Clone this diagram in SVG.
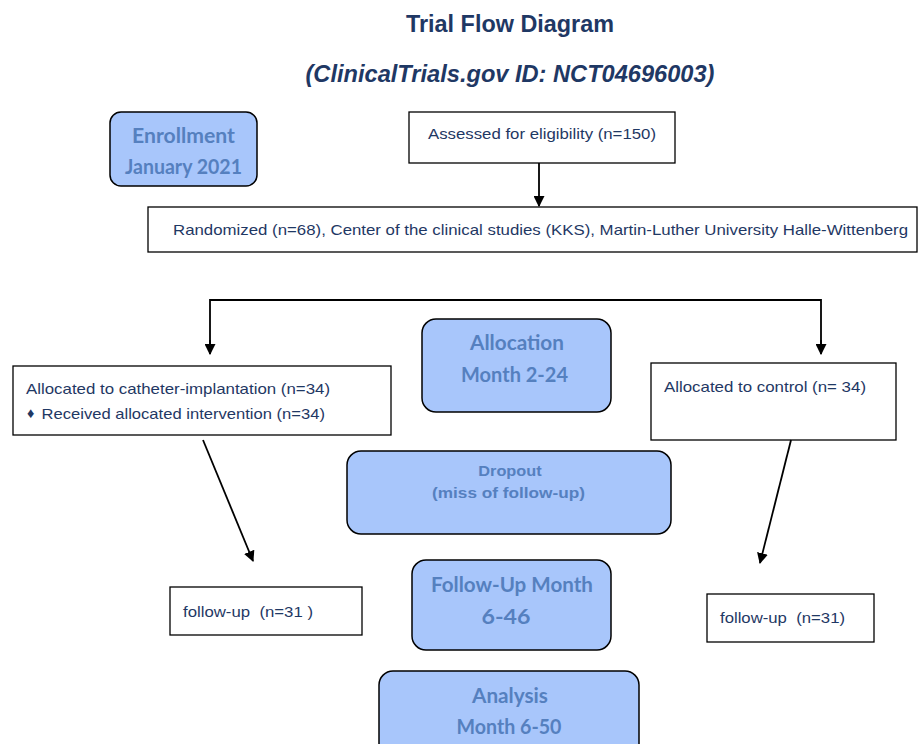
<svg xmlns="http://www.w3.org/2000/svg" width="918" height="744" viewBox="0 0 918 744">
<defs>
<marker id="ah" viewBox="0 0 10 10" refX="9" refY="5" markerWidth="11" markerHeight="11" markerUnits="userSpaceOnUse" orient="auto">
<path d="M0,0 L10,5 L0,10 z" fill="#000"/>
</marker>
<style>
.title{font-family:"Liberation Sans",Arial,sans-serif;font-weight:bold;fill:#1f3864;font-size:23.5px;text-anchor:middle}
.box{fill:#fff;stroke:#000;stroke-width:1.3}
.phase{fill:#a8c6fb;stroke:#000;stroke-width:1.5}
.pt{font-family:Lato,"Open Sans",sans-serif;font-weight:bold;fill:#5580bf;font-size:20px;text-anchor:middle}
.dt{font-family:"Liberation Sans",Arial,sans-serif;font-weight:bold;fill:#5580bf;font-size:15px;text-anchor:middle}
.bt{font-family:"Liberation Sans",Arial,sans-serif;fill:#1f3864;font-size:14.5px;white-space:pre}
.conn{fill:none;stroke:#000;stroke-width:1.8}
</style>
</defs>
<rect width="918" height="744" fill="#fff"/>
<text class="title" x="510" y="32" textLength="208" lengthAdjust="spacingAndGlyphs">Trial Flow Diagram</text>
<text class="title" x="510" y="82" font-style="italic" textLength="409" lengthAdjust="spacingAndGlyphs">(ClinicalTrials.gov ID: NCT04696003)</text>

<g id="enrollment">
<rect class="phase" x="110" y="112" width="147" height="74" rx="11"/>
<text class="pt" x="183.5" y="143" textLength="103" lengthAdjust="spacingAndGlyphs">Enrollment</text>
<text class="pt" x="183.5" y="174" textLength="117" lengthAdjust="spacingAndGlyphs">January 2021</text>
</g>
<g id="assessed">
<rect class="box" x="409" y="112" width="266" height="51"/>
<text class="bt" x="428" y="139" textLength="228" lengthAdjust="spacingAndGlyphs">Assessed for eligibility (n=150)</text>
</g>
<g id="randomized">
<rect class="box" x="148" y="207" width="769" height="45"/>
<text class="bt" x="173" y="235" textLength="735" lengthAdjust="spacingAndGlyphs">Randomized (n=68), Center of the clinical studies (KKS), Martin-Luther University Halle-Wittenberg</text>
</g>
<g id="allocation">
<rect class="phase" x="422" y="319" width="189" height="93" rx="14"/>
<text class="pt" x="517" y="350" textLength="94" lengthAdjust="spacingAndGlyphs">Allocation</text>
<text class="pt" x="514.5" y="382" textLength="107" lengthAdjust="spacingAndGlyphs">Month 2-24</text>
</g>
<g id="alloc-catheter">
<rect class="box" x="13" y="366" width="378" height="69"/>
<text class="bt" x="26" y="394" textLength="304" lengthAdjust="spacingAndGlyphs">Allocated to catheter-implantation (n=34)</text>
<text class="bt" x="27" y="418" font-size="9">♦</text>
<text class="bt" x="41.5" y="419" textLength="283.5" lengthAdjust="spacingAndGlyphs">Received allocated intervention (n=34)</text>
</g>
<g id="alloc-control">
<rect class="box" x="651" y="363" width="245" height="77"/>
<text class="bt" x="664" y="392" textLength="202" lengthAdjust="spacingAndGlyphs">Allocated to control (n= 34)</text>
</g>
<g id="dropout">
<rect class="phase" x="347" y="451" width="324" height="83" rx="14"/>
<text class="dt" x="510" y="476" textLength="63.5" lengthAdjust="spacingAndGlyphs">Dropout</text>
<text class="dt" x="508.5" y="498" textLength="153" lengthAdjust="spacingAndGlyphs">(miss of follow-up)</text>
</g>
<g id="followup-left">
<rect class="box" x="170" y="587" width="192" height="48"/>
<text class="bt" x="183" y="617" textLength="130" lengthAdjust="spacingAndGlyphs">follow-up  (n=31 )</text>
</g>
<g id="followup-phase">
<rect class="phase" x="412" y="560" width="199" height="90" rx="14"/>
<text class="pt" x="512" y="592" textLength="162" lengthAdjust="spacingAndGlyphs">Follow-Up Month</text>
<text class="pt" x="506" y="624" textLength="49" lengthAdjust="spacingAndGlyphs">6-46</text>
</g>
<g id="followup-right">
<rect class="box" x="707" y="594" width="167" height="48"/>
<text class="bt" x="720" y="623" textLength="125" lengthAdjust="spacingAndGlyphs">follow-up  (n=31)</text>
</g>
<g id="analysis">
<rect class="phase" x="379" y="671" width="260" height="90" rx="14"/>
<text class="pt" x="510" y="703" textLength="76" lengthAdjust="spacingAndGlyphs">Analysis</text>
<text class="pt" x="509" y="734" textLength="105" lengthAdjust="spacingAndGlyphs">Month 6-50</text>
</g>

<g id="connectors">
<line class="conn" x1="539" y1="163" x2="539" y2="206" marker-end="url(#ah)"/>
<path class="conn" d="M210,350 V300 H821 V350"/>
<line class="conn" x1="210" y1="340" x2="210" y2="354" marker-end="url(#ah)"/>
<line class="conn" x1="821" y1="340" x2="821" y2="354" marker-end="url(#ah)"/>
<line class="conn" x1="203" y1="440" x2="253" y2="561" marker-end="url(#ah)"/>
<line class="conn" x1="791" y1="440" x2="760" y2="563" marker-end="url(#ah)"/>
</g>
</svg>
